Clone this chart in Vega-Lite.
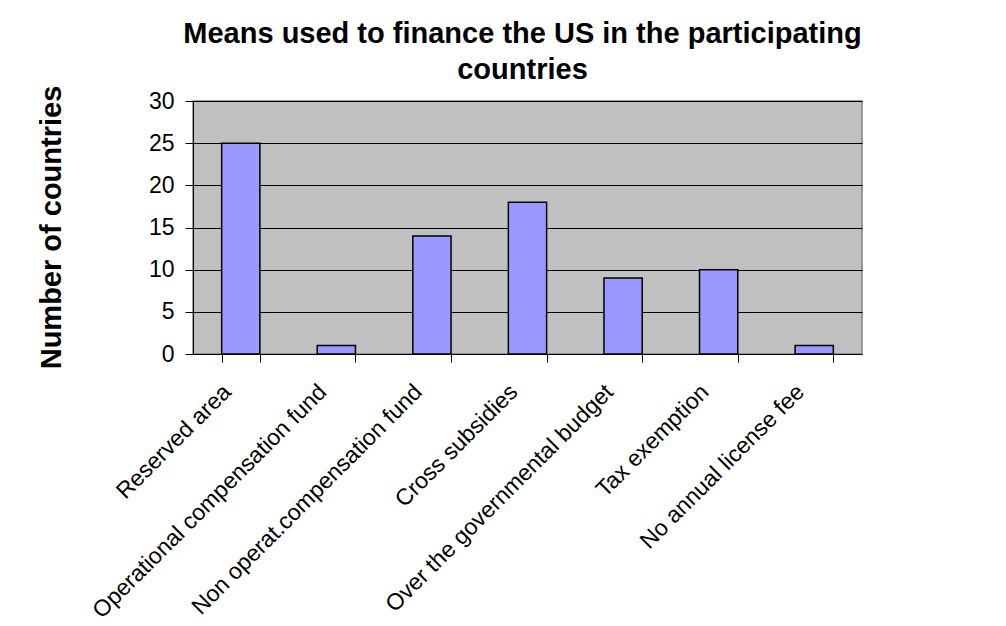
{
  "$schema": "https://vega.github.io/schema/vega-lite/v6.json",
  "autosize": {"type": "none"},
  "width": 669,
  "height": 253,
  "padding": {"left": 193, "top": 101, "right": 144, "bottom": 272},
  "background": "white",
  "title": {
    "text": ["Means used to finance the US in the participating", "countries"],
    "font": "Liberation Sans",
    "fontSize": 29,
    "fontWeight": "bold",
    "color": "black",
    "anchor": "middle",
    "lineHeight": 36,
    "baseline": "bottom",
    "offset": -29,
    "dx": -5
  },
  "data": {
    "values": [
      {"means": "Reserved area", "countries": 25},
      {"means": "Operational compensation fund", "countries": 1},
      {"means": "Non operat.compensation fund", "countries": 14},
      {"means": "Cross subsidies", "countries": 18},
      {"means": "Over the governmental budget", "countries": 9},
      {"means": "Tax exemption", "countries": 10},
      {"means": "No annual license fee", "countries": 1}
    ]
  },
  "mark": {"type": "bar", "color": "#9999FF", "stroke": "black", "strokeWidth": 1.5},
  "encoding": {
    "x": {
      "field": "means",
      "type": "nominal",
      "sort": null,
      "scale": {"paddingInner": 0.6, "paddingOuter": 0.3},
      "axis": {
        "title": null,
        "labelAngle": -45,
        "labelAlign": "right",
        "labelBaseline": "middle",
        "labelFont": "Liberation Sans",
        "labelFontSize": 23,
        "labelColor": "black",
        "labelPadding": 26,
        "labelOffset": -14,
        "labelLimit": 0,
        "tickBand": "extent",
        "tickSize": 8,
        "tickColor": "black",
        "domainColor": "black",
        "labelOverlap": false
      }
    },
    "y": {
      "field": "countries",
      "type": "quantitative",
      "scale": {"domain": [0, 30], "nice": false},
      "axis": {
        "title": "Number of countries",
        "titleFont": "Liberation Sans",
        "titleFontSize": 29,
        "titleFontWeight": "bold",
        "titleColor": "black",
        "titleX": -133,
        "titleY": 126,
        "titleBaseline": "alphabetic",
        "titleAlign": "center",
        "values": [0, 5, 10, 15, 20, 25, 30],
        "labelFont": "Liberation Sans",
        "labelFontSize": 23,
        "labelColor": "black",
        "labelPadding": 11,
        "tickSize": 8,
        "tickColor": "black",
        "domainColor": "black",
        "grid": true,
        "gridColor": "black",
        "gridOpacity": 1
      }
    }
  },
  "config": {
    "view": {"fill": "#C0C0C0", "stroke": "#808080", "strokeWidth": 1.5},
    "axis": {"domainWidth": 1, "tickWidth": 1, "gridWidth": 1}
  }
}
